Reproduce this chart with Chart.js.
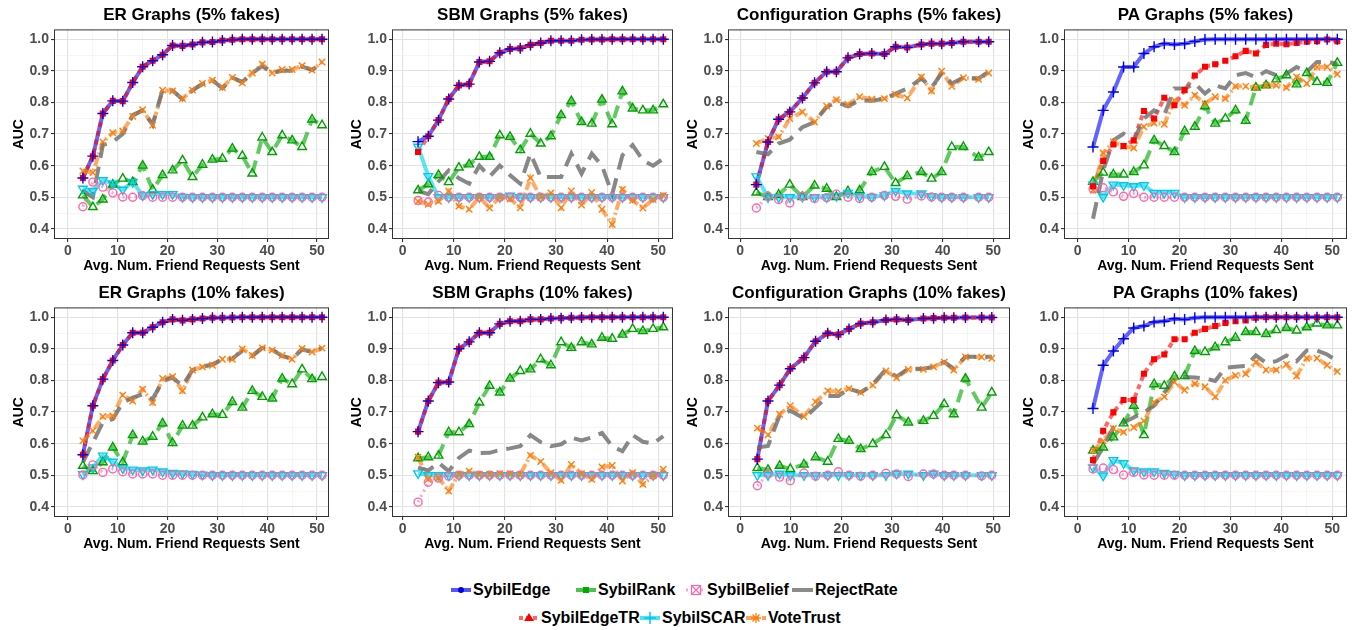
<!DOCTYPE html>
<html>
<head>
<meta charset="utf-8">
<script src="https://cdn.jsdelivr.net/npm/chart.js@4.4.1/dist/chart.umd.min.js"></script>
<style>
body { margin: 0; background: #fff; width: 1359px; height: 630px; position: relative; overflow: hidden; font-family: "Liberation Sans", Arial, sans-serif; }
canvas { position: absolute; }
.leg { position: absolute; font-weight: bold; font-size: 16px; line-height: 18px; color: #000; white-space: nowrap; }
.key { position: absolute; }
</style>
</head>
<body>
<div id="charts"></div>

<!-- legend -->
<svg class="key" style="left:451px;top:583px" width="20" height="14"><line x1="0" y1="7" x2="20" y2="7" stroke="#2a2aff" stroke-opacity="0.8" stroke-width="4"/><circle cx="10" cy="7" r="3" fill="#0000ee"/></svg>
<div class="leg" style="left:473px;top:581px">SybilEdge</div>
<svg class="key" style="left:576px;top:583px" width="20" height="14"><line x1="0" y1="7" x2="20" y2="7" stroke="#00aa00" stroke-opacity="0.7" stroke-width="4"/><rect x="7" y="4" width="6" height="6" fill="#00aa00"/></svg>
<div class="leg" style="left:598px;top:581px">SybilRank</div>
<svg class="key" style="left:686px;top:583px" width="20" height="14"><line x1="0" y1="7" x2="20" y2="7" stroke="#ff66aa" stroke-opacity="0.6" stroke-width="3" stroke-dasharray="2 3"/><rect x="5.5" y="2.5" width="9" height="9" fill="#fff" stroke="#ff66aa" stroke-width="1.2"/><path d="M6 3 L14 11 M14 3 L6 11" stroke="#ff66aa" stroke-width="1.2"/></svg>
<div class="leg" style="left:707px;top:581px">SybilBelief</div>
<svg class="key" style="left:792px;top:583px" width="21" height="14"><line x1="0" y1="7" x2="21" y2="7" stroke="#6e6e6e" stroke-opacity="0.8" stroke-width="4"/></svg>
<div class="leg" style="left:815px;top:581px">RejectRate</div>

<svg class="key" style="left:519px;top:611px" width="20" height="14"><line x1="0" y1="7" x2="20" y2="7" stroke="#ff0000" stroke-opacity="0.6" stroke-width="4" stroke-dasharray="4 3"/><path d="M10 2 L15 10 L5 10 Z" fill="#ff0000"/></svg>
<div class="leg" style="left:541px;top:609px">SybilEdgeTR</div>
<svg class="key" style="left:640px;top:611px" width="20" height="14"><line x1="0" y1="7" x2="20" y2="7" stroke="#00d7f0" stroke-opacity="0.7" stroke-width="4"/><path d="M10 1 L10 13 M4 7 L16 7" stroke="#00c8e8" stroke-width="1.5"/></svg>
<div class="leg" style="left:662px;top:609px">SybilSCAR</div>
<svg class="key" style="left:746px;top:611px" width="20" height="14"><line x1="0" y1="7" x2="20" y2="7" stroke="#ff7f0e" stroke-opacity="0.7" stroke-width="4" stroke-dasharray="8 3 2 3"/><path d="M10 2 L10 12 M5 7 L15 7 M6.5 3.5 L13.5 10.5 M13.5 3.5 L6.5 10.5" stroke="#ff7f0e" stroke-width="1.3"/></svg>
<div class="leg" style="left:768px;top:609px">VoteTrust</div>

<script>
// x positions (avg. number of friend requests sent)
const X_ODD = [3,5,7,9,11,13,15,17,19,21,23,25,27,29,31,33,35,37,39,41,43,45,47,49,51];
const CONF5_X = [3.2,5.5,7.6,9.8,12.3,14.7,17.1,19.0,21.3,23.6,26.0,28.5,30.7,33.0,35.8,37.8,39.8,41.8,44.1,47.1,49.1];
const CONF10_X = [3.4,5.5,7.8,9.9,12.6,14.9,17.3,19.4,21.5,23.8,26.2,28.8,30.9,33.2,36.2,38.2,40.3,42.2,44.5,47.7,49.7];

const X_TICKS = [0,5,10,15,20,25,30,35,40,45,50];
const Y_TICKS = [0.4,0.45,0.5,0.55,0.6,0.65,0.7,0.75,0.8,0.85,0.9,0.95,1.0];

// ---- ER, 5% fakes
const ER5_EDGE = [0.561,0.63,0.765,0.805,0.804,0.863,0.913,0.932,0.951,0.98,0.979,0.983,0.99,0.991,0.996,0.998,1,1,1,1,1,1,1,1,1];
const ER5_EDGETR = [0.561,0.63,0.765,0.805,0.804,0.863,0.913,0.932,0.951,0.98,0.979,0.983,0.99,0.991,0.996,0.998,1,1,1,1,1,1,1,1,1];
const ER5_RANK = [0.506,0.469,0.493,0.54,0.559,0.548,0.6,0.524,0.57,0.585,0.617,0.564,0.603,0.619,0.622,0.654,0.631,0.575,0.689,0.643,0.696,0.68,0.659,0.746,0.728];
const ER5_SCAR = [0.527,0.52,0.554,0.543,0.524,0.548,0.506,0.51,0.51,0.51,0.501,0.5,0.5,0.5,0.5,0.5,0.5,0.5,0.5,0.5,0.5,0.5,0.5,0.5,0.5];
const ER5_BELIEF = [0.47,0.548,0.532,0.514,0.501,0.5,0.505,0.5,0.5,0.5,0.5,0.5,0.5,0.5,0.5,0.5,0.5,0.5,0.5,0.5,0.5,0.5,0.5,0.5,0.5];
const ER5_VOTE = [0.583,0.578,0.675,0.704,0.71,0.756,0.777,0.728,0.839,0.836,0.812,0.839,0.86,0.87,0.847,0.879,0.862,0.893,0.921,0.893,0.904,0.904,0.916,0.902,0.928];
const ER5_REJECT = [0.52,0.5,0.665,0.675,0.7,0.76,0.775,0.73,0.84,0.838,0.81,0.838,0.858,0.87,0.845,0.878,0.865,0.893,0.915,0.893,0.9,0.9,0.913,0.903,0.925];

// ---- SBM, 5% fakes
const SBM5_EDGE = [0.676,0.693,0.744,0.811,0.854,0.858,0.928,0.93,0.957,0.969,0.971,0.982,0.988,0.995,0.995,0.995,0.998,0.999,0.999,1,1,1,1,1,1];
const SBM5_EDGETR = [0.643,0.693,0.744,0.811,0.854,0.858,0.928,0.93,0.957,0.969,0.971,0.982,0.988,0.995,0.995,0.995,0.998,0.999,0.999,1,1,1,1,1,1];
const SBM5_RANK = [0.522,0.541,0.57,0.548,0.594,0.604,0.628,0.628,0.696,0.691,0.649,0.701,0.67,0.693,0.76,0.804,0.738,0.733,0.809,0.731,0.835,0.781,0.775,0.775,0.794];
const SBM5_SCAR = [0.66,0.567,0.5,0.5,0.5,0.5,0.5,0.5,0.5,0.505,0.5,0.5,0.5,0.5,0.5,0.5,0.5,0.5,0.5,0.5,0.5,0.5,0.5,0.5,0.5];
const SBM5_BELIEF = [0.49,0.485,0.506,0.5,0.5,0.5,0.5,0.5,0.5,0.5,0.5,0.5,0.5,0.5,0.5,0.5,0.5,0.5,0.5,0.5,0.5,0.5,0.5,0.5,0.5];
const SBM5_VOTE = [0.487,0.478,0.487,0.52,0.472,0.462,0.5,0.466,0.5,0.495,0.467,0.561,0.5,0.514,0.467,0.52,0.475,0.515,0.462,0.414,0.525,0.49,0.466,0.493,0.506];
const SBM5_REJECT = [0.52,0.51,0.55,0.585,0.56,0.543,0.6,0.565,0.6,0.57,0.543,0.638,0.564,0.564,0.564,0.638,0.575,0.638,0.6,0.51,0.633,0.665,0.617,0.6,0.622];

// ---- Configuration, 5% fakes
const CONF5_EDGE = [0.54,0.675,0.747,0.77,0.814,0.862,0.897,0.897,0.941,0.953,0.955,0.953,0.976,0.974,0.983,0.986,0.986,0.988,0.992,0.992,0.992];
const CONF5_EDGETR = [0.54,0.675,0.747,0.77,0.814,0.862,0.897,0.897,0.941,0.953,0.955,0.953,0.976,0.974,0.983,0.986,0.986,0.988,0.992,0.992,0.992];
const CONF5_RANK = [0.515,0.501,0.508,0.54,0.501,0.537,0.527,0.501,0.519,0.522,0.58,0.596,0.545,0.567,0.58,0.559,0.58,0.659,0.659,0.626,0.643];
const CONF5_SCAR = [0.566,0.5,0.5,0.5,0.501,0.5,0.5,0.504,0.514,0.503,0.501,0.506,0.52,0.512,0.512,0.503,0.5,0.5,0.5,0.5,0.5];
const CONF5_BELIEF = [0.466,0.503,0.493,0.482,0.503,0.496,0.499,0.51,0.5,0.496,0.5,0.506,0.503,0.494,0.504,0.501,0.5,0.5,0.5,0.5,0.5];
const CONF5_VOTE = [0.67,0.686,0.691,0.749,0.77,0.738,0.788,0.809,0.793,0.818,0.81,0.812,0.825,0.814,0.881,0.836,0.899,0.851,0.878,0.873,0.893];
const CONF5_REJECT = [0.643,0.636,0.67,0.682,0.722,0.738,0.786,0.8,0.788,0.807,0.805,0.812,0.828,0.844,0.876,0.847,0.893,0.86,0.879,0.876,0.897];

// ---- PA, 5% fakes
const PA5_EDGE = [0.659,0.775,0.833,0.912,0.912,0.955,0.976,0.986,0.983,0.986,0.993,0.999,1,1,1,1,1,1,1,1,1,1,1,1,1];
const PA5_EDGETR = [0.535,0.615,0.667,0.662,0.68,0.773,0.749,0.815,0.791,0.839,0.885,0.913,0.921,0.932,0.946,0.963,0.955,0.982,0.986,0.984,0.988,0.992,0.994,0.999,0.994];
const PA5_RANK = [0.549,0.578,0.572,0.572,0.58,0.601,0.68,0.662,0.643,0.709,0.723,0.788,0.733,0.749,0.775,0.742,0.847,0.854,0.873,0.886,0.857,0.893,0.865,0.862,0.925];
const PA5_SCAR = [0.54,0.501,0.54,0.538,0.535,0.538,0.514,0.514,0.514,0.5,0.5,0.5,0.5,0.5,0.5,0.5,0.5,0.5,0.5,0.5,0.5,0.5,0.5,0.5,0.5];
const PA5_BELIEF = [0.527,0.53,0.517,0.503,0.512,0.5,0.5,0.5,0.5,0.5,0.5,0.5,0.5,0.5,0.5,0.5,0.5,0.5,0.5,0.5,0.5,0.5,0.5,0.5,0.5];
const PA5_VOTE = [0.522,0.64,0.675,0.661,0.656,0.723,0.735,0.731,0.807,0.791,0.823,0.796,0.818,0.812,0.851,0.851,0.847,0.854,0.854,0.847,0.881,0.86,0.912,0.912,0.889];
const PA5_REJECT = [0.432,0.585,0.68,0.701,0.68,0.749,0.775,0.76,0.844,0.844,0.86,0.828,0.854,0.844,0.886,0.893,0.879,0.899,0.886,0.891,0.912,0.897,0.928,0.928,0.923];

// ---- ER, 10% fakes
const ER10_EDGE = [0.565,0.72,0.804,0.863,0.912,0.951,0.951,0.968,0.984,0.993,0.99,0.993,0.996,0.998,0.998,0.999,1,1,1,1,1,1,1,1,1];
const ER10_EDGETR = [0.565,0.72,0.804,0.863,0.912,0.951,0.951,0.968,0.984,0.993,0.99,0.993,0.996,0.998,0.998,0.999,1,1,1,1,1,1,1,1,1];
const ER10_RANK = [0.53,0.513,0.541,0.588,0.541,0.627,0.607,0.622,0.664,0.602,0.657,0.657,0.683,0.693,0.691,0.732,0.714,0.767,0.748,0.743,0.806,0.788,0.835,0.804,0.811];
const ER10_SCAR = [0.503,0.525,0.562,0.543,0.522,0.518,0.515,0.518,0.512,0.507,0.506,0.504,0.502,0.5,0.5,0.5,0.5,0.5,0.5,0.5,0.5,0.5,0.5,0.5,0.5];
const ER10_BELIEF = [0.501,0.533,0.509,0.52,0.511,0.504,0.504,0.504,0.5,0.5,0.5,0.5,0.5,0.5,0.5,0.5,0.5,0.5,0.5,0.5,0.5,0.5,0.5,0.5,0.5];
const ER10_VOTE = [0.609,0.641,0.686,0.688,0.753,0.735,0.772,0.73,0.806,0.812,0.767,0.833,0.843,0.848,0.867,0.867,0.9,0.879,0.903,0.896,0.879,0.867,0.901,0.89,0.902];
const ER10_REJECT = [0.541,0.604,0.667,0.678,0.73,0.746,0.756,0.741,0.798,0.809,0.783,0.833,0.843,0.851,0.867,0.869,0.893,0.877,0.903,0.898,0.877,0.869,0.898,0.89,0.902];

// ---- SBM, 10% fakes
const SBM10_EDGE = [0.638,0.735,0.793,0.795,0.9,0.922,0.951,0.951,0.979,0.987,0.987,0.993,0.993,0.996,0.997,0.998,0.999,1,1,1,1,1,1,1,1];
const SBM10_EDGETR = [0.638,0.735,0.793,0.795,0.9,0.922,0.951,0.951,0.979,0.987,0.987,0.993,0.993,0.996,0.997,0.998,0.999,1,1,1,1,1,1,1,1];
const SBM10_RANK = [0.554,0.557,0.562,0.636,0.636,0.662,0.73,0.783,0.762,0.806,0.83,0.835,0.867,0.848,0.921,0.903,0.921,0.914,0.935,0.932,0.945,0.963,0.956,0.963,0.968];
const SBM10_SCAR = [0.506,0.5,0.5,0.5,0.5,0.5,0.5,0.5,0.5,0.5,0.5,0.5,0.5,0.5,0.5,0.5,0.5,0.5,0.5,0.5,0.5,0.5,0.5,0.5,0.5];
const SBM10_BELIEF = [0.415,0.478,0.491,0.497,0.5,0.5,0.5,0.5,0.5,0.5,0.5,0.5,0.5,0.5,0.5,0.5,0.5,0.5,0.5,0.5,0.5,0.5,0.5,0.5,0.5];
const SBM10_VOTE = [0.557,0.487,0.492,0.45,0.503,0.513,0.503,0.503,0.505,0.505,0.503,0.563,0.543,0.508,0.484,0.534,0.505,0.487,0.526,0.531,0.482,0.508,0.471,0.498,0.519];
const SBM10_REJECT = [0.524,0.515,0.54,0.513,0.555,0.578,0.57,0.571,0.58,0.585,0.592,0.627,0.605,0.592,0.598,0.619,0.61,0.62,0.634,0.592,0.576,0.627,0.606,0.6,0.624];

// ---- Configuration, 10% fakes
const CONF10_EDGE = [0.551,0.735,0.785,0.837,0.872,0.924,0.949,0.945,0.963,0.98,0.984,0.991,0.993,0.991,0.996,0.997,0.998,0.998,0.999,0.999,0.999];
const CONF10_EDGETR = [0.551,0.735,0.785,0.837,0.872,0.924,0.949,0.945,0.963,0.98,0.984,0.991,0.993,0.991,0.996,0.997,0.998,0.998,0.999,0.999,0.999];
const CONF10_RANK = [0.523,0.517,0.53,0.52,0.534,0.557,0.543,0.615,0.609,0.583,0.599,0.627,0.69,0.667,0.672,0.688,0.725,0.693,0.806,0.714,0.762];
const CONF10_SCAR = [0.5,0.5,0.505,0.5,0.5,0.5,0.5,0.5,0.5,0.5,0.5,0.5,0.505,0.505,0.5,0.505,0.5,0.5,0.5,0.5,0.5];
const CONF10_BELIEF = [0.467,0.504,0.494,0.483,0.507,0.497,0.5,0.511,0.5,0.497,0.5,0.506,0.504,0.496,0.504,0.504,0.5,0.5,0.5,0.498,0.5];
const CONF10_VOTE = [0.649,0.628,0.693,0.72,0.686,0.732,0.767,0.765,0.774,0.762,0.785,0.83,0.808,0.835,0.835,0.843,0.858,0.833,0.874,0.874,0.87];
const CONF10_REJECT = [0.588,0.593,0.69,0.704,0.68,0.714,0.751,0.751,0.774,0.762,0.788,0.835,0.812,0.837,0.837,0.843,0.858,0.837,0.875,0.875,0.875];

// ---- PA, 10% fakes
const PA10_EDGE = [0.711,0.848,0.893,0.932,0.966,0.972,0.985,0.987,0.995,0.993,0.998,1,1,1,1,1,1,1,1,1,1,1,1,1,1];
const PA10_EDGETR = [0.548,0.641,0.699,0.738,0.738,0.821,0.867,0.882,0.93,0.93,0.951,0.963,0.972,0.982,0.987,0.99,0.998,1,1,1,1,1,1,1,1];
const PA10_RANK = [0.578,0.588,0.62,0.664,0.72,0.627,0.788,0.783,0.812,0.814,0.893,0.89,0.905,0.921,0.935,0.953,0.953,0.947,0.959,0.966,0.958,0.968,0.98,0.974,0.974];
const PA10_SCAR = [0.525,0.499,0.548,0.538,0.515,0.512,0.512,0.507,0.504,0.5,0.5,0.5,0.5,0.5,0.5,0.5,0.5,0.5,0.5,0.5,0.5,0.5,0.5,0.5,0.5];
const PA10_BELIEF = [0.52,0.523,0.518,0.501,0.509,0.501,0.5,0.5,0.5,0.5,0.5,0.5,0.5,0.5,0.5,0.5,0.5,0.5,0.5,0.5,0.5,0.5,0.5,0.5,0.5];
const PA10_VOTE = [0.578,0.609,0.648,0.636,0.651,0.672,0.73,0.748,0.795,0.769,0.79,0.78,0.748,0.8,0.816,0.821,0.858,0.833,0.833,0.851,0.814,0.87,0.87,0.848,0.828];
const PA10_REJECT = [0.536,0.588,0.651,0.667,0.683,0.699,0.72,0.762,0.804,0.811,0.809,0.806,0.798,0.84,0.843,0.846,0.879,0.856,0.861,0.879,0.861,0.895,0.895,0.882,0.861];

// line / marker styles per method (lower order = drawn on top)
const METHODS = [
    { key: "REJECT", line: "rgba(110,110,110,0.82)", dash: [17, 9], width: 4, point: null, lineOrder: 10 },
    { key: "VOTE", line: "rgba(255,127,14,0.65)", dash: [9, 3, 2, 3], width: 4, point: "crossRot", pc: "#ff7f0e", fill: false, r: 4.5, lineOrder: 11, ptOrder: 2 },
    { key: "BELIEF", line: "rgba(255,100,170,0.6)", dash: [2, 4], width: 3, point: "circle", pc: "#ff66aa", fill: false, r: 4, lineOrder: 12, ptOrder: 3 },
    { key: "SCAR", line: "rgba(0,215,240,0.65)", dash: [], width: 4, point: "triangle", rot: 180, pc: "#00c8e8", fill: false, r: 5, lineOrder: 13, ptOrder: 4 },
    { key: "RANK", line: "rgba(0,170,0,0.62)", dash: [13, 7], width: 4, point: "triangle", pc: "#00a000", fill: false, r: 5, lineOrder: 14, ptOrder: 5 },
    { key: "EDGETR", line: "rgba(255,0,0,0.6)", dash: [5, 4], width: 4, point: "rect", pc: "#ff0000", fill: true, r: 4.3, lineOrder: 15, ptOrder: 1 },
    { key: "EDGE", line: "rgba(40,40,255,0.72)", dash: [], width: 4, point: "cross", pc: "#0000ee", fill: false, r: 5.5, lineOrder: 16, ptOrder: 0 },
];

const PANELS = [
    { title: "ER Graphs (5% fakes)", x: X_ODD, xmin: -2.8, xmax: 52.4, left: 54, w: 275, top: 0,
      data: { EDGE: ER5_EDGE, EDGETR: ER5_EDGETR, RANK: ER5_RANK, SCAR: ER5_SCAR, BELIEF: ER5_BELIEF, VOTE: ER5_VOTE, REJECT: ER5_REJECT } },
    { title: "SBM Graphs (5% fakes)", x: X_ODD, xmin: -2.1, xmax: 52.9, left: 392, w: 281, top: 0,
      data: { EDGE: SBM5_EDGE, EDGETR: SBM5_EDGETR, RANK: SBM5_RANK, SCAR: SBM5_SCAR, BELIEF: SBM5_BELIEF, VOTE: SBM5_VOTE, REJECT: SBM5_REJECT } },
    { title: "Configuration Graphs (5% fakes)", x: CONF5_X, xmin: -2.4, xmax: 53.3, left: 728, w: 282, top: 0,
      data: { EDGE: CONF5_EDGE, EDGETR: CONF5_EDGETR, RANK: CONF5_RANK, SCAR: CONF5_SCAR, BELIEF: CONF5_BELIEF, VOTE: CONF5_VOTE, REJECT: CONF5_REJECT } },
    { title: "PA Graphs (5% fakes)", x: X_ODD, xmin: -2.7, xmax: 52.9, left: 1064, w: 283, top: 0,
      data: { EDGE: PA5_EDGE, EDGETR: PA5_EDGETR, RANK: PA5_RANK, SCAR: PA5_SCAR, BELIEF: PA5_BELIEF, VOTE: PA5_VOTE, REJECT: PA5_REJECT } },
    { title: "ER Graphs (10% fakes)", x: X_ODD, xmin: -2.8, xmax: 52.4, left: 54, w: 275, top: 278,
      data: { EDGE: ER10_EDGE, EDGETR: ER10_EDGETR, RANK: ER10_RANK, SCAR: ER10_SCAR, BELIEF: ER10_BELIEF, VOTE: ER10_VOTE, REJECT: ER10_REJECT } },
    { title: "SBM Graphs (10% fakes)", x: X_ODD, xmin: -2.1, xmax: 52.9, left: 392, w: 281, top: 278,
      data: { EDGE: SBM10_EDGE, EDGETR: SBM10_EDGETR, RANK: SBM10_RANK, SCAR: SBM10_SCAR, BELIEF: SBM10_BELIEF, VOTE: SBM10_VOTE, REJECT: SBM10_REJECT } },
    { title: "Configuration Graphs (10% fakes)", x: CONF10_X, xmin: -2.4, xmax: 53.3, left: 728, w: 282, top: 278,
      data: { EDGE: CONF10_EDGE, EDGETR: CONF10_EDGETR, RANK: CONF10_RANK, SCAR: CONF10_SCAR, BELIEF: CONF10_BELIEF, VOTE: CONF10_VOTE, REJECT: CONF10_REJECT } },
    { title: "PA Graphs (10% fakes)", x: X_ODD, xmin: -2.7, xmax: 52.9, left: 1064, w: 283, top: 278,
      data: { EDGE: PA10_EDGE, EDGETR: PA10_EDGETR, RANK: PA10_RANK, SCAR: PA10_SCAR, BELIEF: PA10_BELIEF, VOTE: PA10_VOTE, REJECT: PA10_REJECT } },
];

const Y_AXIS_W = 54;
const X_AXIS_H = 39;
const CANVAS_H = 278;
const PAD_RIGHT = 8;

Chart.defaults.font.family = '"Liberation Sans", Arial, sans-serif';

function isMajorX(v) { return Math.abs(v % 10) < 1e-6; }
function isMajorY(v) { return Math.abs(v * 10 - Math.round(v * 10)) < 1e-6; }

// box around the panel, like ggplot's theme_bw
const panelBorder = {
    id: "panelBorder",
    afterDatasetsDraw(chart) {
        const a = chart.chartArea;
        const ctx = chart.ctx;
        ctx.save();
        ctx.strokeStyle = "#333333";
        ctx.lineWidth = 1;
        ctx.strokeRect(a.left + 0.5, a.top + 0.5, a.right - a.left - 1, a.bottom - a.top - 1);
        ctx.restore();
    }
};

function buildDatasets(p) {
    const sets = [];
    METHODS.forEach(function (m) {
        const pts = p.x.map(function (xv, i) { return { x: xv, y: p.data[m.key][i] }; });
        sets.push({
            data: pts,
            borderColor: m.line,
            borderWidth: m.width,
            borderDash: m.dash,
            borderCapStyle: "butt",
            pointRadius: 0,
            fill: false,
            tension: 0,
            order: m.lineOrder,
        });
        if (m.point) {
            sets.push({
                data: pts,
                showLine: false,
                pointStyle: m.point,
                pointRotation: m.rot || 0,
                pointRadius: m.r,
                pointBorderColor: m.pc,
                pointBackgroundColor: m.fill ? m.pc : "rgba(0,0,0,0)",
                pointBorderWidth: m.fill ? 0 : 1.4,
                order: m.ptOrder,
            });
        }
    });
    return sets;
}

const holder = document.getElementById("charts");
PANELS.forEach(function (p) {
    const cv = document.createElement("canvas");
    const w = Y_AXIS_W + p.w + PAD_RIGHT;
    cv.width = w;
    cv.height = CANVAS_H;
    cv.style.width = w + "px";
    cv.style.height = CANVAS_H + "px";
    cv.style.left = (p.left - Y_AXIS_W) + "px";
    cv.style.top = p.top + "px";
    holder.appendChild(cv);

    new Chart(cv.getContext("2d"), {
        type: "line",
        data: { datasets: buildDatasets(p) },
        plugins: [panelBorder],
        options: {
            responsive: false,
            animation: false,
            devicePixelRatio: 1,
            layout: { padding: { left: 0, right: PAD_RIGHT, top: 0, bottom: 0 } },
            plugins: {
                legend: { display: false },
                tooltip: { enabled: false },
                title: {
                    display: true,
                    fullSize: false,
                    text: p.title,
                    color: "#000",
                    font: { size: 17, weight: "bold" },
                    padding: { top: 5, bottom: 4 },
                },
            },
            scales: {
                x: {
                    type: "linear",
                    min: p.xmin,
                    max: p.xmax,
                    afterBuildTicks: function (s) { s.ticks = X_TICKS.map(function (v) { return { value: v }; }); },
                    afterFit: function (s) { s.height = X_AXIS_H; },
                    border: { display: false },
                    grid: {
                        color: function (c) { return c.tick && isMajorX(c.tick.value) ? "#e2e2e2" : "#f0f0f0"; },
                        lineWidth: function (c) { return c.tick && isMajorX(c.tick.value) ? 1.1 : 0.7; },
                        tickColor: function (c) { return c.tick && isMajorX(c.tick.value) ? "#333333" : "rgba(0,0,0,0)"; },
                        tickLength: 3,
                    },
                    ticks: {
                        autoSkip: false,
                        maxRotation: 0,
                        padding: 1,
                        color: "#4d4d4d",
                        font: { size: 14, weight: "bold" },
                        callback: function (v) { return isMajorX(v) ? String(v) : ""; },
                    },
                    title: {
                        display: true,
                        text: "Avg. Num. Friend Requests Sent",
                        color: "#000",
                        font: { size: 14, weight: "bold" },
                        padding: { top: 0, bottom: 3 },
                    },
                },
                y: {
                    min: 0.368,
                    max: 1.031,
                    afterBuildTicks: function (s) { s.ticks = Y_TICKS.map(function (v) { return { value: v }; }); },
                    afterFit: function (s) { s.width = Y_AXIS_W; },
                    border: { display: false },
                    grid: {
                        color: function (c) { return c.tick && isMajorY(c.tick.value) ? "#e2e2e2" : "#f0f0f0"; },
                        lineWidth: function (c) { return c.tick && isMajorY(c.tick.value) ? 1.1 : 0.7; },
                        tickColor: function (c) { return c.tick && isMajorY(c.tick.value) ? "#333333" : "rgba(0,0,0,0)"; },
                        tickLength: 3,
                    },
                    ticks: {
                        autoSkip: false,
                        padding: 2,
                        color: "#4d4d4d",
                        font: { size: 14, weight: "bold" },
                        callback: function (v) { return isMajorY(v) ? v.toFixed(1) : ""; },
                    },
                    title: {
                        display: true,
                        text: "AUC",
                        color: "#000",
                        font: { size: 14, weight: "bold" },
                        padding: { top: 11, bottom: 0 },
                    },
                },
            },
        },
    });
});
</script>
</body>
</html>
